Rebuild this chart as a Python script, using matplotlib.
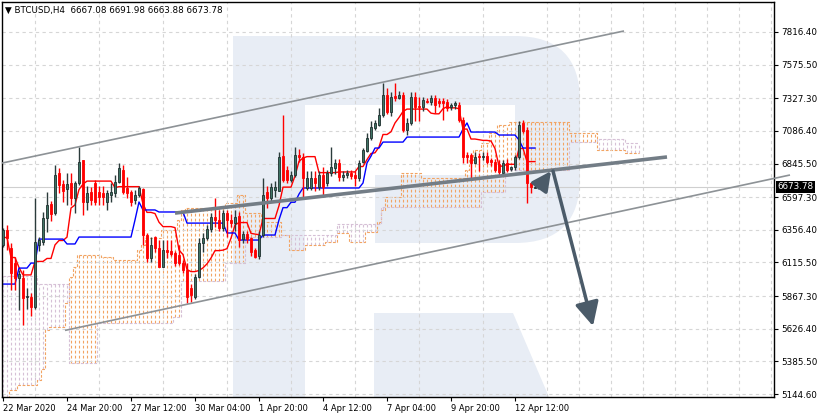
import numpy as np
import pandas as pd
import matplotlib
matplotlib.use('agg')
import matplotlib.pyplot as plt
from matplotlib.patches import FancyBboxPatch, Rectangle, Polygon, FancyArrowPatch
from matplotlib.transforms import Affine2D, blended_transform_factory

# --- candles (BTCUSD H4)
opens = [6245, 6356, 6222, 6115, 6000, 6000, 5860, 5860, 5786, 6245,
         6266, 6443, 6546, 6480, 6775, 6694, 6657, 6702, 6591, 6702,
         6870, 6562, 6635, 6702, 6635, 6628, 6562, 6613, 6628, 6710,
         6797, 6665, 6635, 6576, 6613, 6658, 6320, 6150, 6305, 6222,
         6085, 6208, 6200, 6185, 6170, 6115, 6060, 5925, 5860, 6008,
         6260, 6296, 6362, 6450, 6430, 6370, 6480, 6430, 6410, 6458,
         6290, 6325, 6296, 6210, 6160, 6320, 6635, 6590, 6650, 6643,
         6900, 6797, 6723, 6760, 6908, 6893, 6665, 6665, 6740, 6672,
         6760, 6702, 6775, 6812, 6850, 6745, 6760, 6775, 6760, 6740,
         6857, 6937, 7033, 7108, 7130, 7203, 7350, 7225, 7345, 7330,
         7350, 7093, 7145, 7335, 7270, 7263, 7310, 7300, 7330, 7310,
         7305, 7300, 7260, 7280, 7280, 7170, 6908, 6908, 6850, 6900,
         6893, 6900, 6870, 6857, 6840, 6775, 6850, 6805, 6820, 6893,
         7145, 7093, 6702, 6667.08]
highs = [6370, 6392, 6260, 6155, 6060, 6060, 5925, 5890, 6591, 6300,
         6487, 6635, 6570, 6835, 6812, 6724, 6775, 6775, 6720, 6967,
         6870, 6680, 6672, 6724, 6680, 6680, 6650, 6700, 6760, 6850,
         6833, 6745, 6650, 6650, 6680, 6665, 6335, 6300, 6310, 6280,
         6280, 6280, 6280, 6200, 6244, 6130, 6115, 5960, 6030, 6296,
         6335, 6395, 6480, 6590, 6500, 6500, 6500, 6470, 6500, 6487,
         6345, 6345, 6305, 6225, 6345, 6740, 6680, 6700, 6720, 6930,
         7203, 6830, 6790, 6967, 6950, 6925, 6790, 6790, 6790, 6790,
         6820, 6800, 6967, 6880, 6880, 6790, 6800, 6800, 6790, 6870,
         6960, 7070, 7160, 7170, 7255, 7440, 7403, 7370, 7440, 7380,
         7370, 7180, 7370, 7370, 7340, 7340, 7330, 7350, 7350, 7330,
         7330, 7320, 7290, 7310, 7300, 7190, 6930, 6925, 6930, 6920,
         6930, 6930, 6890, 6880, 6870, 6870, 6880, 6830, 6910, 7160,
         7166, 7115, 6710, 6691.98]
lows = [6230, 6207, 5912, 5912, 5765, 5655, 5770, 5720, 5770, 6200,
        6245, 6340, 6420, 6465, 6628, 6562, 6540, 6540, 6480, 6687,
        6465, 6500, 6540, 6540, 6540, 6540, 6500, 6560, 6600, 6700,
        6620, 6590, 6530, 6550, 6600, 6245, 6120, 6120, 6195, 6080,
        6080, 6150, 6160, 6090, 6100, 6037, 5816, 5823, 5845, 6000,
        6195, 6280, 6340, 6377, 6350, 6350, 6305, 6380, 6350, 6230,
        6260, 6260, 6160, 6150, 6140, 6305, 6520, 6570, 6600, 6640,
        6710, 6700, 6710, 6745, 6860, 6590, 6650, 6650, 6640, 6650,
        6600, 6680, 6750, 6770, 6720, 6720, 6740, 6730, 6680, 6720,
        6850, 6930, 7020, 7090, 7120, 7190, 7210, 7200, 7310, 7320,
        7078, 7055, 7130, 7160, 7160, 7230, 7290, 7280, 7220, 7260,
        7165, 7230, 7240, 7250, 7150, 6850, 6850, 6723, 6840, 6790,
        6870, 6840, 6830, 6780, 6760, 6750, 6780, 6790, 6800, 6880,
        7070, 6554, 6628, 6663.88]
closes = [6356, 6296, 6037, 6000, 6030, 5852, 5870, 5785, 6266, 6280,
          6443, 6540, 6473, 6760, 6687, 6643, 6694, 6591, 6702, 6857,
          6562, 6628, 6576, 6562, 6598, 6598, 6628, 6635, 6710, 6812,
          6635, 6628, 6562, 6613, 6665, 6320, 6150, 6245, 6222, 6085,
          6208, 6195, 6180, 6115, 6115, 6060, 5860, 5875, 6008, 6260,
          6296, 6362, 6450, 6430, 6370, 6480, 6430, 6410, 6450, 6280,
          6325, 6290, 6195, 6155, 6320, 6615, 6590, 6672, 6672, 6893,
          6723, 6723, 6760, 6908, 6893, 6740, 6740, 6740, 6702, 6760,
          6672, 6775, 6820, 6850, 6745, 6760, 6775, 6750, 6740, 6850,
          6945, 7033, 7115, 7145, 7203, 7350, 7225, 7335, 7330, 7350,
          7093, 7145, 7335, 7263, 7263, 7315, 7300, 7330, 7280, 7290,
          7290, 7255, 7275, 7295, 7170, 6893, 6893, 6850, 6893, 6893,
          6900, 6857, 6857, 6797, 6783, 6850, 6797, 6820, 6893, 7130,
          7086, 6702, 6672, 6673.78]

# --- Ichimoku lines, as (level, number of bars)
kijun_runs = [(5956, 4), (6074, 3), (6111, 2), (6288, 7), (6252, 3), (6303, 14),
              (6429, 1), (6562, 1), (6503, 4), (6488, 7), (6406, 10), (6333, 3),
              (6281, 6), (6318, 4), (6430, 1), (6520, 2), (6560, 2), (6620, 1),
              (6665, 15), (6702, 1), (6850, 1), (6900, 1), (6960, 2), (7004, 6),
              (7041, 14), (7100, 1), (7145, 1), (7078, 7), (7056, 5), (7020, 1),
              (6960, 4)]
span_a_runs = [(5122, 2), (5174, 2), (5211, 5), (5250, 1), (5330, 1), (5617, 1),
               (5640, 4), (5816, 1), (6008, 1), (6082, 1), (6170, 6), (6156, 3),
               (6134, 6), (6207, 1), (6244, 1), (6296, 4), (6355, 4), (6429, 1),
               (6503, 1), (6517, 10), (6554, 3), (6613, 2), (6480, 4), (6414, 5),
               (6318, 2), (6207, 4), (6244, 5), (6266, 3), (6333, 3), (6266, 4),
               (6340, 3), (6414, 1), (6503, 1), (6598, 4), (6775, 5), (6739, 11),
               (6798, 1), (6872, 1), (6945, 2), (6997, 2), (7071, 2), (7130, 3),
               (7152, 15), (7071, 7), (6945, 7), (6923, 4)]
span_b_runs = [(6015, 9), (5956, 8), (5370, 7), (5668, 19), (5713, 2), (5979, 11),
               (6111, 5), (6300, 9), (6318, 14), (6400, 11), (6525, 25), (6635, 6),
               (6798, 16), (7004, 7), (7027, 7), (6997, 4)]

y_ticks = [5144.6, 5385.5, 5626.4, 5867.3, 6115.5, 6356.4, 6597.3,
           6845.5, 7086.4, 7327.3, 7575.5, 7816.4]
x_labels = ['22 Mar 2020', '24 Mar 20:00', '27 Mar 12:00', '30 Mar 04:00',
            '1 Apr 20:00', '4 Apr 12:00', '7 Apr 04:00', '9 Apr 20:00', '12 Apr 12:00']
title = '\u25BC BTCUSD,H4  6667.08 6691.98 6663.88 6673.78'
last_price = 6673.78

# drawn objects: (bar, price)
channel_top = [(-0.25, 6849), (155.25, 7824)]
channel_bottom = [(15.5, 5614), (196.75, 6761)]
support = [(43, 6480), (166, 6894)]
arrow_up = [(134, 6665), (137, 6790)]
arrow_down = [(137.5, 6790), (147.5, 5646)]


def expand(runs):
    return np.repeat([v for v, n in runs], [n for v, n in runs]).astype(float)


o, h, l, c = map(np.array, (opens, highs, lows, closes))
n = len(o)
idx = np.arange(n)
hs, ls = pd.Series(h), pd.Series(l)
tenkan = (hs.rolling(9, min_periods=1).max() + ls.rolling(9, min_periods=1).min()) / 2
kijun = expand(kijun_runs)
span_a = expand(span_a_runs)
span_b = expand(span_b_runs)
cidx = np.arange(len(span_a))

fig = plt.figure(figsize=(8.19, 4.18), dpi=100)
ax = fig.add_axes([2 / 819, 21 / 418, 772 / 819, 395 / 418])
ax.set_xlim(-0.25, 192.75)
ax.set_ylim(5122.5, 8037.8)

# watermark "R" in image pixels
px = Affine2D().scale(0.01, -0.01).translate(0, 4.18) + fig.dpi_scale_trans
wm = '#e8edf5'
shapes = [
    FancyBboxPatch((233, 36), 347, 207, boxstyle='round,pad=0,rounding_size=65', fc=wm, ec='none'),
    Rectangle((305, 105), 210, 70, fc='white', ec='none'),
    Rectangle((305, 175), 70, 68, fc='white', ec='none'),
    Rectangle((233, 36), 72, 361, fc=wm, ec='none'),
    Polygon([(374, 313), (513, 313), (549, 397), (374, 397)], closed=True, fc=wm, ec='none'),
]
for s in shapes:
    s.set_transform(px)
    s.set_zorder(0)
    ax.add_patch(s)

# grid
ax.set_yticks(y_ticks)
ax.set_yticklabels([f'{v:.2f}' for v in y_ticks])
ax.set_xticks(np.arange(0, 129, 16))
ax.set_xticklabels(x_labels)
ax.set_xticks(np.arange(0, 193, 8), minor=True)
gkw = dict(color='#d6d6d6', lw=0.8, ls=(0, (3, 3)))
ax.grid(True, which='minor', axis='x', **gkw)
ax.grid(True, which='major', axis='y', **gkw)
ax.tick_params(axis='x', which='minor', length=0)
ax.tick_params(axis='x', which='major', length=3, width=0.8, pad=2, labelsize=6.0)
ax.tick_params(axis='y', which='major', length=3, width=0.8, pad=2, labelsize=6.3,
               left=False, labelleft=False, right=True, labelright=True)
for lbl in ax.get_xticklabels():
    lbl.set_ha('left')
for sp in ax.spines.values():
    sp.set_color('black')
    sp.set_linewidth(1)

# Ichimoku cloud
orange, lilac = '#f2a463', '#d6c0d6'
col = np.where(span_a >= span_b, orange, lilac)
ax.vlines(cidx, np.minimum(span_a, span_b), np.maximum(span_a, span_b),
          colors=col, lw=0.8, ls=(0, (2.5, 2)), zorder=1)
ax.plot(cidx, span_a, color=orange, lw=0.8, ls=(0, (2.5, 1.5)), drawstyle='steps-mid', zorder=1)
ax.plot(cidx, span_b, color=lilac, lw=0.8, ls=(0, (2.5, 1.5)), drawstyle='steps-mid', zorder=1)

ax.axhline(last_price, color='#cfcfcf', lw=0.8, zorder=1.2)

ax.plot(idx, tenkan, color='#ff0000', lw=1, zorder=2)
ax.plot(idx, kijun, color='#0000ff', lw=1, zorder=2)

# candles
up = c >= o
wick_col = np.where(up, '#2b3b3b', '#ff0000')
ax.vlines(idx, l, h, colors=wick_col, lw=1, zorder=3)
body_lo = np.minimum(o, c)
body_h = np.maximum(np.abs(c - o), 5)
ax.bar(idx, body_h, bottom=body_lo, width=0.7,
       color=np.where(up, '#3f7464', '#ff0000'),
       edgecolor=np.where(up, '#1f2f2f', '#ff0000'), linewidth=0.6, zorder=3)

# drawn lines and arrows
for (x0, y0), (x1, y1), lw, colr in [(*channel_top, 1.2, '#8d9296'),
                                      (*channel_bottom, 1.2, '#8d9296'),
                                      (*support, 2.6, '#737d86')]:
    ax.plot([x0, x1], [y0, y1], color=colr, lw=lw, zorder=4, clip_on=False,
            solid_capstyle='butt')
for (p0, p1), ms in [(arrow_up, 13), (arrow_down, 16)]:
    ax.add_patch(FancyArrowPatch(p0, p1, arrowstyle='-|>,head_length=0.9,head_width=0.45',
                                 mutation_scale=ms, lw=2.5, color='#4b5b69',
                                 shrinkA=0, shrinkB=0, zorder=5))

# price box and title
tr = blended_transform_factory(ax.transAxes, ax.transData)
ax.text(1.004, last_price, f'{last_price:.2f}', transform=tr, ha='left', va='center',
        fontsize=6.3, color='white', zorder=6,
        bbox=dict(facecolor='black', edgecolor='none', pad=1.0))
fig.text(5 / 819, 1 - 10 / 418, title, fontsize=6.3, va='center', ha='left')

fig.savefig('out.png', dpi=100)
